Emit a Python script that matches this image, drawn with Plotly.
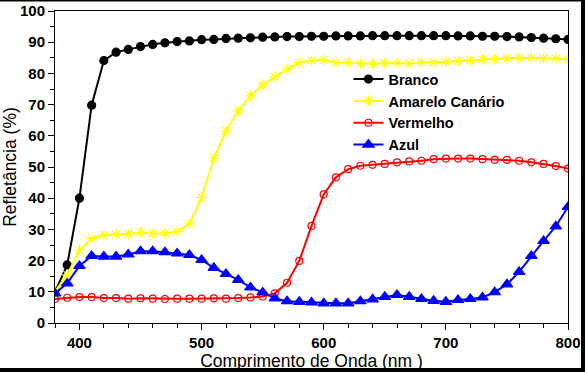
import plotly.graph_objects as go

wavelength = list(range(380, 801, 10))

branco = [10, 18.6, 40, 69.8, 84.1, 86.8, 87.7, 88.6, 89.3, 89.8, 90.2, 90.4, 90.8, 90.9, 91.2, 91.3, 91.4,
          91.6, 91.7, 91.8, 91.8, 91.9, 91.9, 92.0, 92.0, 92.0, 92.1, 92.1, 92.1, 92.1, 92.1, 92.1, 92.1,
          92.0, 92.0, 91.9, 91.9, 91.8, 91.7, 91.5, 91.3, 91.1, 90.9]

amarelo = [10, 15.4, 23.4, 27.1, 28.2, 28.4, 28.5, 29.0, 28.7, 28.7, 29.3, 31.8, 40.3, 52.8, 61.6, 68.0,
           72.8, 76.3, 78.9, 81.4, 83.5, 84.1, 84.3, 83.5, 83.5, 83.2, 83.0, 83.3, 83.3, 83.2, 83.5, 83.5,
           83.7, 84.0, 84.2, 84.5, 84.5, 84.8, 85.0, 85.0, 84.8, 84.8, 84.5]

vermelho = [7.7, 8.1, 8.3, 8.3, 8.0, 8.0, 7.8, 7.9, 7.8, 7.7, 7.8, 7.8, 7.8, 7.9, 7.8, 8.0, 8.2, 8.5,
            9.5, 12.9, 19.9, 31.1, 41.2, 46.7, 49.3, 50.4, 50.7, 51.0, 51.5, 51.8, 52.0, 52.5, 52.7, 52.7,
            52.7, 52.5, 52.3, 52.3, 52.0, 51.5, 51.0, 50.3, 49.5]

azul = [9.5, 12.7, 18.3, 21.5, 21.3, 21.3, 22.0, 23.0, 23.0, 22.7, 22.3, 21.8, 20.2, 17.7, 15.7, 13.8,
        11.4, 9.8, 7.9, 7.0, 6.8, 6.6, 6.3, 6.3, 6.3, 7.0, 7.6, 8.4, 9.0, 8.4, 7.7, 7.1, 6.8, 7.4, 7.7,
        8.2, 9.9, 12.4, 16.4, 21.5, 26.3, 31.0, 37.2]

series = [
    ("Branco", branco, "#000000", "circle", 8),
    ("Amarelo Canário", amarelo, "#FFFF00", "asterisk-open", 9),
    ("Vermelho", vermelho, "#FF0000", "circle-open", 7),
    ("Azul", azul, "#0000FF", "triangle-up", 10),
]

fig = go.Figure()
for name, vals, color, sym, size in series:
    fig.add_trace(go.Scatter(
        x=wavelength, y=vals, name=name, mode="lines+markers",
        line=dict(color=color, width=2),
        marker=dict(symbol=sym, size=size, color=color, line=dict(color=color, width=1.2)),
    ))

tickfont = dict(family="Liberation Sans, Arial", size=15, color="black", weight="bold")
titlefont = dict(family="Liberation Sans, Arial", size=17.5, color="black")

fig.update_layout(
    width=585, height=372,
    margin=dict(l=55, r=17, t=11, b=49),
    paper_bgcolor="white", plot_bgcolor="white",
    showlegend=True,
    legend=dict(x=0.572, y=0.833, xanchor="left", yanchor="top",
                font=dict(family="Liberation Sans, Arial", size=14.5, color="black", weight="bold"),
                bgcolor="rgba(0,0,0,0)", tracegroupgap=0),
    xaxis=dict(range=[380, 800], dtick=100, tick0=0, ticks="outside", ticklen=6, tickwidth=1,
               tickcolor="black", showline=True, linecolor="black", linewidth=1, mirror=True,
               showgrid=False, zeroline=False, tickfont=tickfont, automargin=False,
               minor=dict(dtick=20, tick0=0, ticks="outside", ticklen=4, tickcolor="black", showgrid=False),
               title=dict(text="Comprimento de Onda (nm )", font=titlefont, standoff=2)),
    yaxis=dict(range=[0, 100], dtick=10, ticks="outside", ticklen=6, tickwidth=1,
               tickcolor="black", showline=True, linecolor="black", linewidth=1, mirror=True,
               showgrid=False, zeroline=False, tickfont=tickfont, automargin=False,
               minor=dict(dtick=5, ticks="outside", ticklen=4, tickcolor="black", showgrid=False),
               title=dict(text="Refletância (%)", font=titlefont, standoff=4)),
)

# image frame (thin top line, thick right/bottom bands)
pw, ph = 513.0, 312.0
def px(x):
    return (x - 55) / pw
def py(y):
    return (323 - y) / ph
frame = [
    (0, 0, 585, 1.5),
    (581, 0, 585, 372),
    (0, 368, 585, 372),
]
for x0, y0, x1, y1 in frame:
    fig.add_shape(type="rect", xref="paper", yref="paper",
                  x0=px(x0), x1=px(x1), y0=py(y0), y1=py(y1),
                  fillcolor="black", line=dict(width=0), layer="above")

fig.write_html("out.html", config={"displayModeBar": False},
               post_script="document.body.style.margin='0';document.body.style.overflow='hidden';")
